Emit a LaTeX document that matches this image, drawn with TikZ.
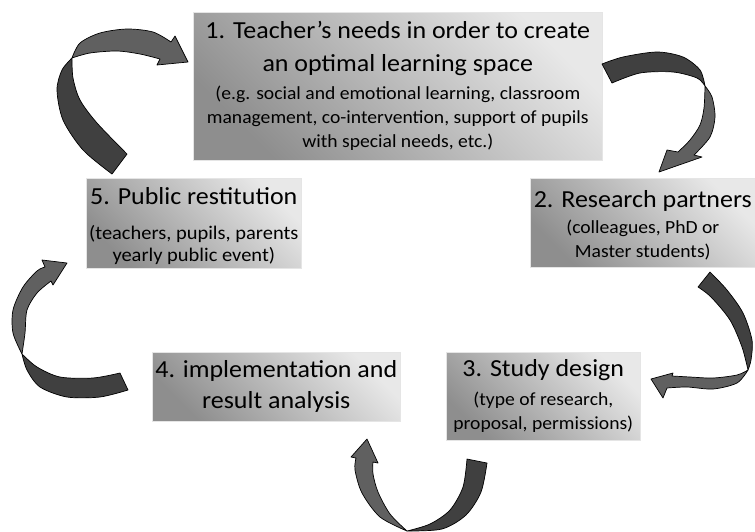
\documentclass[tikz,border=0pt]{standalone}
\usepackage{fontspec}
\setmainfont{Carlito}[FakeStretch=1.06]
\definecolor{boxdark}{HTML}{8E8E8E}
\definecolor{boxlight}{HTML}{E8E8E8}
\definecolor{ribbonback}{HTML}{404040}
\definecolor{ribbonfront}{HTML}{606060}
% line size / distance to previous baseline
\newcommand{\steptitle}[1]{\fontsize{24.5pt}{#1pt}\selectfont}
\newcommand{\stepnote}[2][18.5]{\fontsize{#1pt}{#2pt}\selectfont}
\setlength{\lineskiplimit}{-30pt}

\begin{document}
\begin{tikzpicture}[x=1pt, y=-1pt,
    stage/.style={draw=gray!20, line width=0.6pt, top color=boxlight, bottom color=boxdark,
      shading angle=-45, inner sep=0pt, align=flush center, anchor=north west},
    ribbon back/.style={fill=ribbonback, draw=black, line width=0.7pt, line join=round},
    ribbon front/.style={fill=ribbonfront, draw=black, line width=0.7pt, line join=round}]

    \useasboundingbox (0,0) rectangle (755,531);

    % the five stages
    \node[stage, text width=409pt, text height=26pt, text depth=122pt] (needs) at (193,12)
      {\steptitle{33}1. Teacher's needs in order to create\par
       an optimal learning space\par
       \stepnote{28}(e.g. social and emotional learning, classroom\par
       \stepnote{24}management, co-intervention, support of pupils\par
       with special needs, etc.)\par};
    \node[stage, text width=225pt, text height=29pt, text depth=60pt] (partners) at (530,178)
      {\steptitle{32}2. Research partners\par
       \stepnote{26}(colleagues, PhD or\par
       \stepnote{24}Master students)\par};
    \node[stage, text width=194pt, text height=24pt, text depth=64pt] (design) at (446,352)
      {\steptitle{32}3. Study design\par
       \stepnote{29}(type of research,\par
       \stepnote{24}proposal, permissions)\par};
    \node[stage, text width=248pt, text height=25pt, text depth=44pt] (analysis) at (152,352)
      {\steptitle{31}4. implementation and\par
       result analysis\par};
    \node[stage, text width=215pt, text height=26pt, text depth=64pt] (restitution) at (86,178)
      {\steptitle{32}5. Public restitution\par
       \stepnote[19.3]{35}(teachers, pupils, parents\par
       \stepnote[19.3]{22}yearly public event)\par};

    % twisted ribbon arrows, dark tail then lighter head
    % 5 -> 1
    \filldraw[ribbon back] plot[smooth] coordinates {(112,174) (83,150) (63,120) (57,90) (62,70) (72,58)}
      -- plot[smooth] coordinates {(72,58) (73,78) (80,100) (97,123) (127,154)} -- cycle;
    \filldraw[ribbon front] plot[smooth] coordinates {(72,58) (80,43) (100,33) (127,29) (153,32) (171,42)}
      -- (175,36) -- (188,62) -- (157,65) -- (160,59)
      -- plot[smooth] coordinates {(160,59) (140,54) (117,51) (90,53) (72,58)} -- cycle;
    % 1 -> 2
    \filldraw[ribbon back] plot[smooth] coordinates {(602,64) (623,57) (657,52) (683,57) (700,70) (705,86)}
      -- plot[smooth] coordinates {(705,86) (697,78) (673,72) (640,73) (612,83)} -- cycle;
    \filldraw[ribbon front] plot[smooth] coordinates {(705,86) (712,97) (715,117) (710,137) (694,155)}
      -- (702,157) -- (659,172) -- (667,150) -- (678,152)
      -- plot[smooth] coordinates {(678,152) (690,140) (700,125) (704,108) (705,86)} -- cycle;
    % 2 -> 3
    \filldraw[ribbon back] plot[smooth] coordinates {(710,272) (727,290) (743,313) (752,340) (751,360) (748,370)}
      -- plot[smooth] coordinates {(748,370) (742,347) (730,320) (711,297) (698,287)} -- cycle;
    \filldraw[ribbon front] plot[smooth] coordinates {(748,370) (737,383) (713,389) (687,387) (667,388)}
      -- (663,398) -- (651,379) -- (673,373) -- (672,376)
      -- plot[smooth] coordinates {(672,376) (690,377) (713,378) (737,375) (748,370)} -- cycle;
    % 3 -> 4
    \filldraw[ribbon back] plot[smooth] coordinates {(487,463) (481,492) (466,515) (442,529) (407,531)}
      -- plot[smooth] coordinates {(407,531) (430,524) (450,510) (463,487) (467,459)} -- cycle;
    \filldraw[ribbon front] plot[smooth] coordinates {(407,531) (380,517) (362,493) (355,470) (356,458)}
      -- (351,457) -- (367,439) -- (378,463) -- (373,462)
      -- plot[smooth] coordinates {(373,462) (373,474) (378,492) (390,514) (407,531)} -- cycle;
    % 4 -> 5
    \filldraw[ribbon back] plot[smooth] coordinates {(128,390) (100,397) (67,397) (40,387) (27,370) (22,354)}
      -- plot[smooth] coordinates {(22,354) (37,367) (60,377) (93,378) (120,373)} -- cycle;
    \filldraw[ribbon front] plot[smooth] coordinates {(22,354) (13,333) (13,310) (23,287) (37,271) (45,267)}
      -- (42,260) -- (67,263) -- (53,285) -- (51,281)
      -- plot[smooth] coordinates {(51,281) (37,293) (27,310) (25,333) (22,354)} -- cycle;
  \end{tikzpicture}
\end{document}
